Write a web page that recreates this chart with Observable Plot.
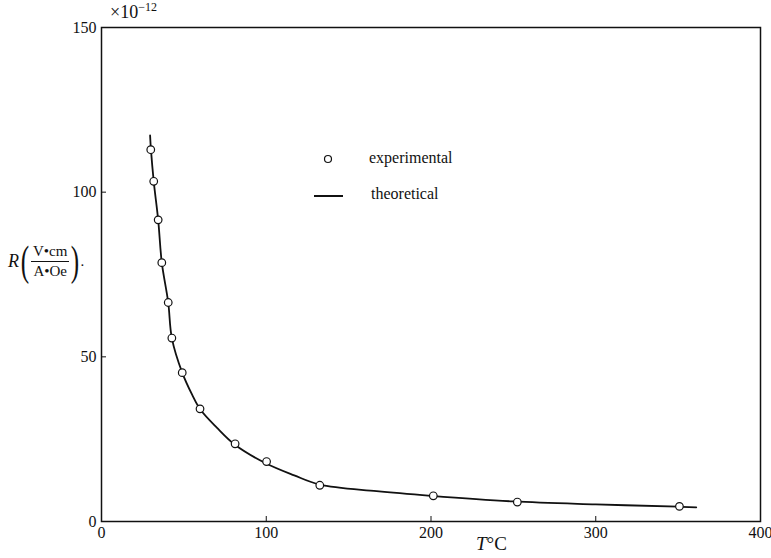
<!DOCTYPE html>
<html>
<head>
<meta charset="utf-8">
<script src="https://cdn.jsdelivr.net/npm/d3@7"></script>
<script src="https://cdn.jsdelivr.net/npm/@observablehq/plot@0.6"></script>
<style>
  body { margin: 0; background: #fff; }
  #wrap { position: relative; width: 771px; height: 558px; font-family: "Liberation Serif", "DejaVu Serif", serif; color: #111; }
  #wrap svg text { font-family: "Liberation Serif", "DejaVu Serif", serif !important; font-size: 16px; fill: #111; }
  .ov { position: absolute; white-space: nowrap; }
  .frac { display: inline-block; vertical-align: middle; text-align: center; font-size: 15px; line-height: 19px; margin: 0 1px; }
  .frac .num { border-bottom: 1.3px solid #111; padding: 0 2px; }
  .paren { font-size: 42px; vertical-align: middle; display: inline-block; transform: scaleX(0.6); margin: 0 -2px; line-height: 44px; }
</style>
</head>
<body>
<div id="wrap"></div>
<script>
// Experimental points (T in °C, R in 1e-12 V·cm/(A·Oe))
const tempExp = [29.9, 31.7, 34.4, 36.6, 40.5, 42.7, 49.0, 59.8, 81.1, 100.2, 132.5, 201.4, 252.4, 350.8];
const rExp    = [112.9, 103.3, 91.6, 78.6, 66.5, 55.7, 45.2, 34.2, 23.6, 18.2, 11.0, 7.8, 5.9, 4.6];
// Theoretical curve
const tempTh = [29.5, 30, 31.7, 34.4, 36.6, 40.5, 42.7, 49, 55, 60, 70, 81, 100, 117, 132.5, 167, 200, 250, 300, 350, 361];
const rTh    = [117.2, 113, 103.3, 91.6, 78.6, 66.5, 55.7, 45.2, 38.5, 34, 28.5, 23.3, 17.6, 14.0, 11.2, 9.2, 7.8, 6.1, 5.2, 4.5, 4.3];
const xTicks = [0, 100, 200, 300, 400];
const yTicks = [0, 50, 100, 150];
const legendLabels = ["experimental", "theoretical"];

const expData = tempExp.map((t, i) => ({t, r: rExp[i]}));
const thData = tempTh.map((t, i) => ({t, r: rTh[i]}));

const serif = "Liberation Serif, DejaVu Serif, serif";

const plot = Plot.plot({
  width: 771,
  height: 558,
  marginLeft: 101,
  marginRight: 11,
  marginTop: 27,
  marginBottom: 37,
  style: {background: "white", fontFamily: serif},
  x: {domain: [0, 400]},
  y: {domain: [0, 150]},
  marks: [
    Plot.frame({stroke: "#111", strokeWidth: 1.5}),
    Plot.axisX({ticks: xTicks, tickSize: 5, dy: -5, text: null, label: null, stroke: "#111"}),
    Plot.axisY({ticks: yTicks, tickSize: 5, dx: 5, text: null, label: null, stroke: "#111"}),
    Plot.axisX({ticks: xTicks, tickSize: 0, tickPadding: 5, label: null, fontFamily: serif, fontSize: 16}),
    Plot.axisY({ticks: yTicks, tickSize: 0, tickPadding: 5, label: null, fontFamily: serif, fontSize: 16}),
    Plot.line(thData, {x: "t", y: "r", curve: "catmull-rom", stroke: "#111", strokeWidth: 1.8}),
    Plot.dot(expData, {x: "t", y: "r", r: 3.8, fill: "white", stroke: "#111", strokeWidth: 1.2})
  ]
});

const wrap = document.getElementById("wrap");
wrap.appendChild(plot);

function ov(html, left, top) {
  const d = document.createElement("div");
  d.className = "ov";
  d.style.left = left + "px";
  d.style.top = top + "px";
  d.innerHTML = html;
  wrap.appendChild(d);
  return d;
}

// ×10^-12 exponent note
ov('<span style="font-size:18px">×10</span><span style="font-size:12px;position:relative;top:-7px">−12</span>', 110, 2);

// y-axis label
ov('<span style="font-style:italic;font-size:18px;vertical-align:middle;margin-right:1px">R</span>' +
   '<span class="paren">(</span>' +
   '<span class="frac"><div class="num">V•cm</div><div>A•Oe</div></span>' +
   '<span class="paren">)</span><span style="font-size:15px;vertical-align:middle">.</span>', 8, 239);

// x-axis label
ov('<span style="font-size:19px"><i>T</i>°C</span>', 476, 533);

// legend
ov('<svg width="40" height="60" style="position:absolute;left:0;top:0;overflow:visible">' +
   '<circle cx="18" cy="9" r="3.5" fill="white" stroke="#111" stroke-width="1.2"></circle>' +
   '<line x1="4" y1="46" x2="33" y2="46" stroke="#111" stroke-width="2"></line></svg>' +
   '<div style="position:absolute;left:59px;top:-1px;font-size:16px">' + legendLabels[0] + '</div>' +
   '<div style="position:absolute;left:61px;top:35px;font-size:16px">' + legendLabels[1] + '</div>', 310, 150);
</script>
</body>
</html>
